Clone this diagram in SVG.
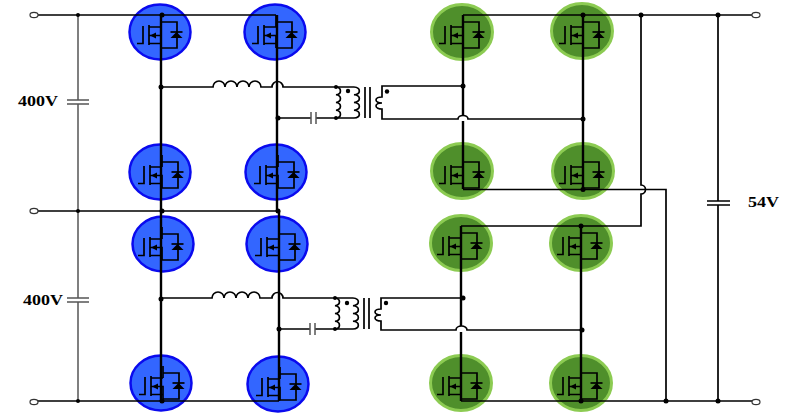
<svg xmlns="http://www.w3.org/2000/svg" width="802" height="416" viewBox="0 0 802 416">
<style>
.w{fill:none;stroke:#000;stroke-width:1.7}
.g{fill:none;stroke:#555;stroke-width:1.5}
.t{fill:none;stroke:#000;stroke-width:2.4}
.s{fill:none;stroke:#000;stroke-width:1.7}
.d{fill:#000}
.b{fill:#3366ff;stroke:#0a0aee;stroke-width:2.5}
.n{fill:#4f8f2b;stroke:#8ccb52;stroke-width:3}
.l{font-family:"Liberation Serif",serif;font-weight:bold;font-size:14px;fill:#000}
.o{fill:#fff;stroke:#333;stroke-width:1.2}
</style>
<defs>
<g id="fet">
<path class="s" d="M-23 11.500H-17V-6M-11-7V13M-11-5H1M-11 3.500H1V16M-11 11.500H1M1-17V-5M1-10H17V16H1"/>
<path class="d" d="M-10 3.500L-4 .5V6.500Z"/>
<path class="d" d="M16.500 0L10.500 6H22.500Z"/>
<path class="s" d="M10.500 0H22.500"/>
</g>
<ellipse id="bc" rx="30.500" ry="27.500" class="b"/>
<ellipse id="gc" rx="30.500" ry="27.500" class="n"/>
</defs>
<g id="q1"><use href="#bc" x="160" y="32"/><use href="#fet" x="160" y="32"/></g>
<g id="q2"><use href="#bc" x="275" y="32"/><use href="#fet" x="275" y="32"/></g>
<g id="q3"><use href="#bc" x="160" y="172"/><use href="#fet" x="161" y="172"/></g>
<g id="q4"><use href="#bc" x="276" y="172"/><use href="#fet" x="277" y="172"/></g>
<g id="q5"><use href="#bc" x="163" y="244"/><use href="#fet" x="161" y="244"/></g>
<g id="q6"><use href="#bc" x="277" y="244"/><use href="#fet" x="278" y="244"/></g>
<g id="q7"><use href="#bc" x="161" y="383"/><use href="#fet" x="162" y="383"/></g>
<g id="q8"><use href="#bc" x="278" y="384"/><use href="#fet" x="279" y="384"/></g>
<g id="q9"><use href="#gc" x="462" y="32"/><use href="#fet" x="462" y="32"/></g>
<g id="q10"><use href="#gc" x="582" y="31"/><use href="#fet" x="582" y="32"/></g>
<g id="q11"><use href="#gc" x="462" y="171"/><use href="#fet" x="462" y="172"/></g>
<g id="q12"><use href="#gc" x="583" y="171"/><use href="#fet" x="582" y="172"/></g>
<g id="q13"><use href="#gc" x="461" y="243"/><use href="#fet" x="460" y="243"/></g>
<g id="q14"><use href="#gc" x="581" y="243"/><use href="#fet" x="580" y="243"/></g>
<g id="q15"><use href="#gc" x="461" y="383"/><use href="#fet" x="460" y="383"/></g>
<g id="q16"><use href="#gc" x="581" y="383"/><use href="#fet" x="580" y="383"/></g>
<g id="connectors">
<path class="w" d="M38 15H276M38 211H278M38 401H279"/>
<path class="w" d="M463 15H752M461 401H752"/>
<path class="g" d="M78 15V100M78 104V298M78 302V401"/>
<path class="g" d="M67 100H89M67 104H89M67 298H89M67 302H89"/>
<path class="w" d="M463 189.500H666V401"/>
<path class="w" d="M641 15V185a4.500 4.500 0 0 1 0 9V226H461"/>
<path class="w" d="M718 15V201M718 205V401M707 201H730M707 205H730"/>
<path class="w" d="M161 87H213a6 6 0 0 1 12 0a6 6 0 0 1 12 0a6 6 0 0 1 12 0a6 6 0 0 1 12 0H272a5.500 5.500 0 0 1 11 0H336"/>
<path class="w" d="M161 298H212a6 6 0 0 1 12 0a6 6 0 0 1 12 0a6 6 0 0 1 12 0a6 6 0 0 1 12 0H272a5.500 5.500 0 0 1 11 0H335"/>
<path class="w" d="M278 118H311M316 118H336M279 329H310M315 329H335"/>
<path class="g" d="M311 112V124M316 112V124M310 323V335M315 323V335"/>
<path class="w" d="M336 87H354M336 118H354"/>
<path class="w" d="M336 87a5 3.900 0 0 1 0 7.750a5 3.900 0 0 1 0 7.750a5 3.900 0 0 1 0 7.750a5 3.900 0 0 1 0 7.750"/>
<path class="w" d="M354 87a6 3.900 0 0 1 0 7.750a6 3.900 0 0 1 0 7.750a6 3.900 0 0 1 0 7.750a6 3.900 0 0 1 0 7.750"/>
<path class="w" d="M335 298H353M335 329H353"/>
<path class="w" d="M335 298a5 3.900 0 0 1 0 7.750a5 3.900 0 0 1 0 7.750a5 3.900 0 0 1 0 7.750a5 3.900 0 0 1 0 7.750"/>
<path class="w" d="M353 298a6 3.900 0 0 1 0 7.750a6 3.900 0 0 1 0 7.750a6 3.900 0 0 1 0 7.750a6 3.900 0 0 1 0 7.750"/>
<path class="w" d="M365 87V118M370 87V118M364 298V329M369 298V329"/>
<path class="w" d="M463 86H382V97a6 3 0 0 0 0 6a6 3 0 0 0 0 6V119H458a5 3.500 0 0 1 10 0H583"/>
<path class="w" d="M463 298H381V309a6 3 0 0 0 0 6a6 3 0 0 0 0 6V330H456a5.500 4 0 0 1 11 0H582"/>
<path class="t" d="M161 15V401M277 15V211M279 211V401"/>
<path class="t" d="M463 15V115M463 121V189M461 226V326M461 332V401"/>
<path class="t" d="M583 15V189M581 226V401"/>
</g>
<g id="dots">
<g class="d">
<circle cx="78" cy="15" r="2"/><circle cx="162" cy="15" r="2.500"/><circle cx="161" cy="87" r="2.500"/><circle cx="278" cy="118" r="2.500"/>
<circle cx="78" cy="211" r="2"/><circle cx="162" cy="211" r="2.500"/><circle cx="278" cy="211" r="2.500"/>
<circle cx="78" cy="401" r="2"/><circle cx="162" cy="401" r="2.500"/><circle cx="161" cy="299" r="2.500"/><circle cx="279" cy="329" r="2.500"/>
<circle cx="336" cy="87" r="2"/><circle cx="336" cy="118" r="2"/><circle cx="335" cy="298" r="2"/><circle cx="335" cy="329" r="2"/>
<circle cx="348" cy="91" r="2.200"/><circle cx="387" cy="91.500" r="2.200"/><circle cx="347" cy="303" r="2.200"/><circle cx="386" cy="303" r="2.200"/>
<circle cx="463" cy="86" r="2.500"/><circle cx="463" cy="298" r="2.500"/><circle cx="583" cy="119" r="2.500"/><circle cx="582" cy="330" r="2.500"/>
<circle cx="583" cy="15" r="2.500"/><circle cx="641" cy="15" r="2.500"/><circle cx="718" cy="15" r="2.500"/>
<circle cx="583" cy="189.500" r="2.500"/><circle cx="581" cy="226" r="2.500"/>
<circle cx="581" cy="401" r="2.500"/><circle cx="666" cy="401" r="2.500"/><circle cx="718" cy="401" r="2.500"/>
</g>
</g>
<g id="terminals">
<ellipse class="o" cx="34" cy="15" rx="4" ry="2.600"/><ellipse class="o" cx="34" cy="211" rx="4" ry="2.600"/><ellipse class="o" cx="34" cy="402" rx="4" ry="2.600"/>
<ellipse class="o" cx="756" cy="15" rx="4" ry="2.600"/><ellipse class="o" cx="756" cy="402" rx="4" ry="2.600"/>
</g>
<text class="l" x="18" y="106" textLength="40" lengthAdjust="spacingAndGlyphs">400V</text>
<text class="l" x="23" y="305" textLength="40" lengthAdjust="spacingAndGlyphs">400V</text>
<text class="l" x="748" y="207" textLength="31" lengthAdjust="spacingAndGlyphs">54V</text>
</svg>
